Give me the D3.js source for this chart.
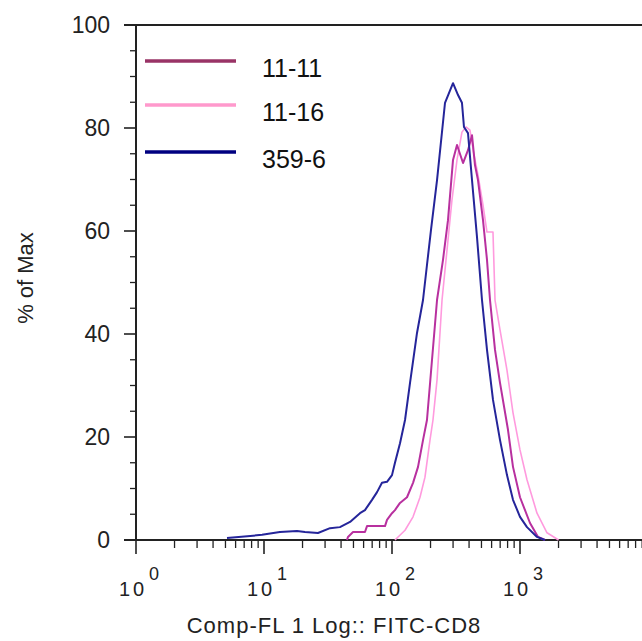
<!DOCTYPE html>
<html lang="en">
<head>
  <meta charset="UTF-8">
  <title>% of Max histogram</title>
  <style>
    body { margin: 0; background: #fff; }
    svg { display: block; font-family: 'Liberation Sans', Arial, sans-serif; }
  </style>
</head>
<body>
  <svg width="642" height="641"></svg>

  <script src="https://d3js.org/d3.v7.min.js"></script>
  <script>
  // series names (legend order)
  const names = ["11-11", "11-16", "359-6"];

  // 11-11 : FITC-CD8 intensity and % of max
  const fl_1111 = [44.5, 45.3, 49.6, 61.5, 63.8, 88.2, 91.4, 100, 105.5, 115.5, 131, 146, 159.7, 174.7, 187.6, 205.4, 224.8, 250.3, 273.8, 299.7, 322, 358.9, 392.4, 421.7, 444.9, 469.6, 514, 552.3, 583, 638, 698, 805.6, 881.6, 1000, 1197, 1383, 1567];
  const pct_1111 = [0, 0.6, 1.55, 1.55, 2.7, 2.7, 3.9, 5.2, 5.8, 7.2, 8.3, 11.1, 14.2, 19.4, 23.3, 35.0, 46.6, 54.4, 62.1, 73.8, 76.7, 73.2, 75.7, 78.6, 72.8, 69.9, 62.1, 54.4, 46.6, 36.9, 30.5, 21.4, 14.2, 8.3, 3.3, 0.6, 0];

  // 11-16
  const fl_1116 = [105.5, 126.4, 146, 165.5, 181, 198, 209, 224.8, 246, 269, 294, 322, 352, 378.5, 406.5, 437, 469.6, 514, 552, 615, 638, 698, 791, 882, 1000, 1134, 1358, 1626, 1945, 2000];
  const pct_1116 = [0, 1.9, 4.5, 8.3, 12.2, 19.4, 23.3, 31.1, 46.6, 56.3, 66.0, 73.8, 79.2, 80.2, 79.6, 74.8, 70.9, 65.0, 59.8, 59.8, 46.6, 40.8, 33.0, 24.7, 17.5, 11.7, 5.2, 1.4, 0.2, 0];

  // 359-6
  const fl_3596 = [5.14, 9.65, 13.3, 18.1, 20.9, 26.4, 32.8, 39.2, 47.0, 56.2, 61.5, 69.8, 76.4, 83.5, 91.4, 100, 105.5, 115.5, 126.4, 138.3, 156.8, 174.7, 187.6, 201.7, 224.8, 259.5, 299.7, 328, 352, 365, 392.4, 421.7, 461.4, 504.8, 552.3, 615.3, 698.2, 791.3, 881.6, 1000, 1134, 1358, 1567];
  const pct_3596 = [0.4, 1.0, 1.55, 1.75, 1.55, 1.35, 2.3, 2.5, 3.5, 5.2, 5.8, 7.8, 9.3, 11.1, 11.3, 12.6, 15.0, 18.8, 23.3, 30.5, 40.2, 46.6, 53.4, 60.2, 69.9, 84.9, 88.7, 86.4, 84.9, 80.2, 79.0, 69.9, 58.8, 46.6, 36.9, 27.2, 19.4, 12.6, 7.8, 4.5, 2.5, 0.6, 0];

  const yTicks = [0, 20, 40, 60, 80, 100];
  const xDecades = [1, 10, 100, 1000];

  const legendColors = ["#993366", "#ff99cc", "#000080"];
  const lineColors = ["#b8309f", "#ff9ade", "#25259a"];
  const ink = "#222";

  const svg = d3.select("svg");

  const x = d3.scaleLog().domain([1, 1e4]).range([136, 648]);
  const y = d3.scaleLinear().domain([0, 100]).range([540, 25]);

  // y ticks: minor every 5, major every 20
  const yMinor = d3.range(0, 101, 5).filter(v => v % 20 !== 0);
  svg.append("g").selectAll("line").data(yMinor).join("line")
    .attr("x1", 130).attr("x2", 136)
    .attr("y1", d => y(d)).attr("y2", d => y(d))
    .attr("stroke", ink).attr("stroke-width", 1.3);
  svg.append("g").selectAll("line").data(yTicks).join("line")
    .attr("x1", 124).attr("x2", 136)
    .attr("y1", d => y(d)).attr("y2", d => y(d))
    .attr("stroke", ink).attr("stroke-width", 1.6);
  svg.append("g").selectAll("text").data(yTicks).join("text")
    .attr("x", 110).attr("y", d => y(d))
    .attr("dy", "0.36em")
    .attr("text-anchor", "end")
    .attr("font-size", 23).attr("fill", ink)
    .text(d => d);

  // x ticks: log minors and decades
  const xMinor = [];
  for (let k = 0; k < 4; k++) for (let m = 2; m <= 9; m++) xMinor.push(m * Math.pow(10, k));
  svg.append("g").selectAll("line").data(xMinor).join("line")
    .attr("x1", d => x(d)).attr("x2", d => x(d))
    .attr("y1", 540).attr("y2", 548)
    .attr("stroke", ink).attr("stroke-width", 1.3);
  svg.append("g").selectAll("line").data(xDecades).join("line")
    .attr("x1", d => x(d)).attr("x2", d => x(d))
    .attr("y1", 540).attr("y2", 554)
    .attr("stroke", ink).attr("stroke-width", 1.6);

  // x tick labels as 10 with exponent
  const xl = svg.append("g").attr("fill", ink);
  xDecades.forEach((d, i) => {
    const px = x(d);
    xl.append("text")
      .attr("x", px - 3).attr("y", 596)
      .attr("text-anchor", "middle")
      .attr("font-size", 20).attr("letter-spacing", 3)
      .text("10");
    xl.append("text")
      .attr("x", px + 13).attr("y", 580)
      .attr("font-size", 18)
      .text(i);
  });

  // frame: left axis, bottom axis, top line
  svg.append("line").attr("x1", 136).attr("x2", 136).attr("y1", y(100)).attr("y2", 540)
    .attr("stroke", ink).attr("stroke-width", 2);
  svg.append("line").attr("x1", 124).attr("x2", 642).attr("y1", y(100)).attr("y2", y(100))
    .attr("stroke", ink).attr("stroke-width", 2);
  svg.append("line").attr("x1", 124).attr("x2", 642).attr("y1", 540).attr("y2", 540)
    .attr("stroke", ink).attr("stroke-width", 2);

  // histograms
  const line = d3.line().x(d => x(d[0])).y(d => y(d[1]));
  const data = [
    d3.zip(fl_1111, pct_1111),
    d3.zip(fl_1116, pct_1116),
    d3.zip(fl_3596, pct_3596)
  ];
  [1, 0, 2].forEach(i => {
    svg.append("path")
      .datum(data[i])
      .attr("d", line)
      .attr("fill", "none")
      .attr("stroke", lineColors[i])
      .attr("stroke-width", i === 1 ? 1.6 : 2)
      .attr("stroke-linejoin", "round");
  });

  // legend
  const legY = [61, 105, 152];
  names.forEach((n, i) => {
    svg.append("line")
      .attr("x1", 145).attr("x2", 236).attr("y1", legY[i]).attr("y2", legY[i])
      .attr("stroke", legendColors[i]).attr("stroke-width", 3.5);
    svg.append("text")
      .attr("x", 262).attr("y", legY[i] + 16)
      .attr("font-size", 25).attr("fill", "#111")
      .text(n);
  });

  // axis titles
  svg.append("text")
    .attr("x", 334).attr("y", 633)
    .attr("text-anchor", "middle")
    .attr("font-size", 22).attr("letter-spacing", 1).attr("fill", ink)
    .text("Comp-FL 1 Log:: FITC-CD8");

  svg.append("text")
    .attr("transform", "translate(33,278) rotate(-90)")
    .attr("text-anchor", "middle")
    .attr("font-size", 22).attr("fill", ink)
    .text("% of Max");
  </script>
</body>
</html>
